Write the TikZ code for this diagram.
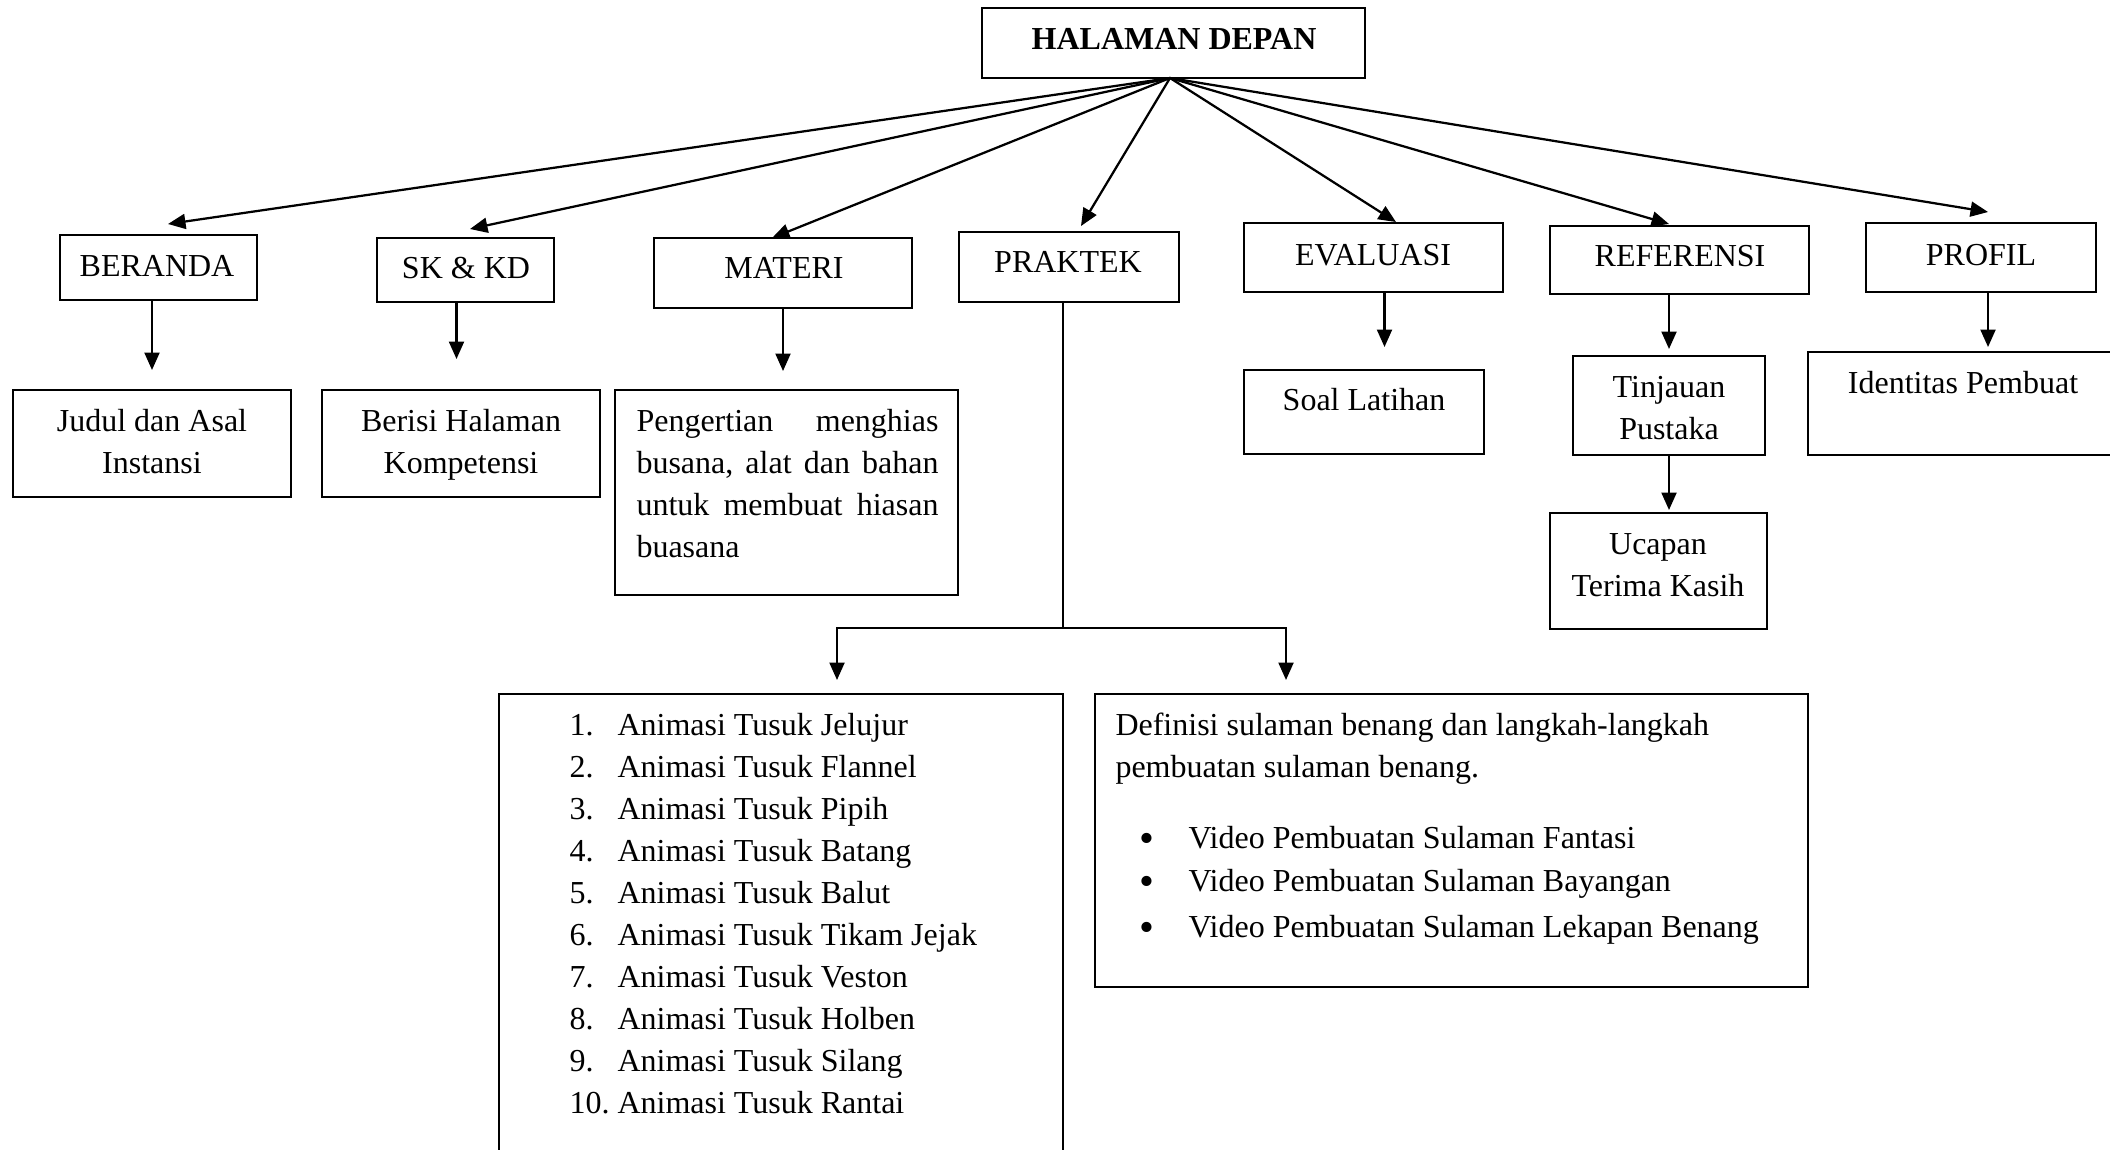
\documentclass[tikz,border=0pt]{standalone}
\usepackage{fontspec}
\setmainfont{Liberation Serif}
\usetikzlibrary{arrows.meta,fit,calc}
\begin{document}
\begin{tikzpicture}[x=0.4pt,y=-0.4pt,
  box/.style={draw, line width=0.8pt, inner sep=0pt},
  txt/.style={inner sep=0pt, font=\fontsize{12.8pt}{15pt}\selectfont},
  arr/.style={draw, line width=0.9pt, -{Triangle[length=7pt,width=6pt]}},
  ln/.style={draw, line width=0.6pt}]
\useasboundingbox (0,0) rectangle (2110,1149);
\clip (0,0) rectangle (2110,1149);

% boxes
\node[box, fit={(982,8) (1365,78)}] (hd) {};
\node[box, fit={(60,235) (257,300)}] (beranda) {};
\node[box, fit={(377,238) (554,302)}] (sk) {};
\node[box, fit={(654,238) (912,308)}] (materi) {};
\node[box, fit={(959,232) (1179,302)}] (praktek) {};
\node[box, fit={(1244,223) (1503,292)}] (evaluasi) {};
\node[box, fit={(1550,226) (1809,294)}] (referensi) {};
\node[box, fit={(1866,223) (2096,292)}] (profil) {};
\node[box, fit={(13,390) (291,497)}] (judul) {};
\node[box, fit={(322,390) (600,497)}] (berisi) {};
\node[box, fit={(615,390) (958,595)}] (peng) {};
\node[box, fit={(1244,370) (1484,454)}] (soal) {};
\node[box, fit={(1573,356) (1765,455)}] (tinj) {};
\node[box, fit={(1550,513) (1767,629)}] (ucap) {};
\node[box, fit={(1808,352) (2125,455)}] (ident) {};
\node[box, fit={(499,694) (1063,1175)}] (list) {};
\node[box, fit={(1095,694) (1808,987)}] (def) {};

% texts
\node[txt, anchor=base, font=\fontsize{12.8pt}{15pt}\selectfont\bfseries] (hdt) at (1174,49) {HALAMAN DEPAN};
\node[txt, anchor=base] (berandat) at (157,276) {BERANDA};
\node[txt, anchor=base] (skt) at (466,278) {SK \& KD};
\node[txt, anchor=base] (materit) at (784,278) {MATERI};
\node[txt, anchor=base] (praktekt) at (1068,272) {PRAKTEK};
\node[txt, anchor=base] (evaluasit) at (1373,265) {EVALUASI};
\node[txt, anchor=base] (referensit) at (1680,266) {REFERENSI};
\node[txt, anchor=base] (profilt) at (1981,265) {PROFIL};
\node[txt, anchor=base] (judul1) at (152,431) {Judul dan Asal};
\node[txt, anchor=base] (judul2) at (152,473) {Instansi};
\node[txt, anchor=base] (berisi1) at (461,431) {Berisi Halaman};
\node[txt, anchor=base] (berisi2) at (461,473) {Kompetensi};
\node[txt, anchor=base west] (p1) at (636,431) {\hbox to 120.8pt{Pengertian\hfill menghias}};
\node[txt, anchor=base west] (p2) at (636,473) {\hbox to 120.8pt{busana,\hfill alat\hfill dan\hfill bahan}};
\node[txt, anchor=base west] (p3) at (636,515) {\hbox to 120.8pt{untuk\hfill membuat\hfill hiasan}};
\node[txt, anchor=base west] (p4) at (636,557) {buasana};
\node[txt, anchor=base] (soalt) at (1364,410) {Soal Latihan};
\node[txt, anchor=base] (tinj1) at (1669,397) {Tinjauan};
\node[txt, anchor=base] (tinj2) at (1669,439) {Pustaka};
\node[txt, anchor=base] (ucap1) at (1658,554) {Ucapan};
\node[txt, anchor=base] (ucap2) at (1658,596) {Terima Kasih};
\node[txt, anchor=base] (identt) at (1963,393) {Identitas Pembuat};

\foreach \i/\t in {1/Jelujur,2/Flannel,3/Pipih,4/Batang,5/Balut,6/Tikam Jejak,7/Veston,8/Holben,9/Silang,10/Rantai}{
  \node[txt, anchor=base west] (n\i) at (569,{735+42.1*(\i-1)}) {\i.};
  \node[txt, anchor=base west] (l\i) at (617,{735+42.1*(\i-1)}) {Animasi Tusuk \t};
}
\node[txt, anchor=base west] (d1) at (1115,735) {Definisi sulaman benang dan langkah-langkah};
\node[txt, anchor=base west] (d2) at (1115,777) {pembuatan sulaman benang.};
\foreach \j/\t [count=\k] in {848/Fantasi,891/Bayangan,937/Lekapan Benang}{
  \node[txt, anchor=center, font=\fontsize{17pt}{17pt}\selectfont] (b\k) at (1147,{\j-5}) {\textbullet};
  \node[txt, anchor=base west] (v\k) at (1188,\j) {Video Pembuatan Sulaman \t};
}

% connectors from top
\coordinate (tB) at (168,224);
\coordinate (tS) at (470,229);
\coordinate (tM) at (772,238);
\coordinate (tP) at (1081,226);
\coordinate (tE) at (1396,222);
\coordinate (tR) at (1669,224);
\coordinate (tF) at (1988,212);
\foreach \c in {tB,tS,tM,tP,tE,tR,tF}{
  \draw[arr] (1170,78) -- (\c);
}

% vertical arrows
\draw[arr, shorten >=7.6pt] (beranda.south -| judul.north) -- (judul.north);
\draw[arr, shorten >=12pt] ([xshift=-3.6pt]sk.south) -- ([xshift=-3.6pt]sk.south |- berisi.north);
\draw[arr, shorten >=7.2pt] (materi.south) -- (materi.south |- peng.north);
\draw[arr, shorten >=8.8pt] ([xshift=4.4pt]evaluasi.south) -- ([xshift=4.4pt]evaluasi.south |- soal.north);
\draw[arr, shorten >=2.4pt] (tinj.north |- referensi.south) -- (tinj.north);
\draw[arr, shorten >=0.8pt] (tinj.south) -- (tinj.south |- ucap.north);
\draw[arr, shorten >=1.6pt] ([xshift=2.8pt]profil.south) -- ([xshift=2.8pt]profil.south |- ident.north);

% PRAKTEK branch
\coordinate (br) at (1063,628);
\coordinate (tipL) at (837,680);
\coordinate (tipR) at (1286,680);
\draw[ln] (praktek.south -| br) -- (br);
\draw[arr] (br) -| (tipL);
\draw[arr] (br) -| (tipR);
\end{tikzpicture}
\end{document}
